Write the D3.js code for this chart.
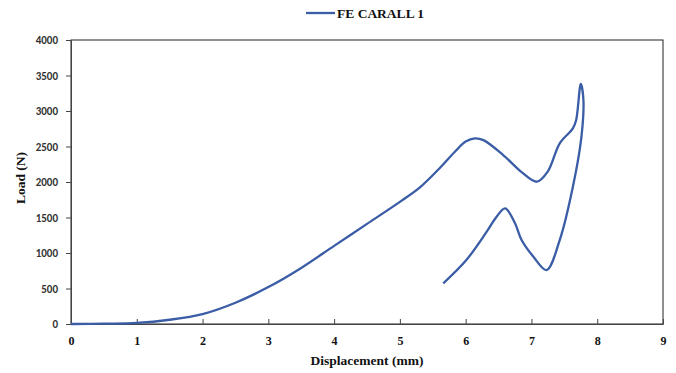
<!DOCTYPE html>
<html>
<head>
<meta charset="UTF-8">
<title>Load-Displacement</title>
<script src="https://cdn.jsdelivr.net/npm/d3@7"></script>
<style>
body { margin:0; background:#fff; }
.y.axis text { font-family: Carlito, "Liberation Sans", sans-serif; font-size: 11px; font-weight: bold; fill:#333; }
.x.axis text { font-family: "Liberation Serif", serif; font-size: 12px; font-weight: bold; fill:#111; }
.title { font-family: "Liberation Serif", serif; font-size: 13.5px; font-weight: bold; fill:#111; }
</style>
</head>
<body>
<div id="chart"></div>
<script>
// displacement (mm) / load (N) in drawing order
var disp = [0, 0.5, 1, 1.5, 2, 2.5, 3, 3.5, 4, 4.5, 5, 5.3, 5.6, 5.85, 6.0, 6.14, 6.27, 6.57, 6.85, 7.08, 7.25, 7.43, 7.63, 7.68, 7.75, 7.79,
            7.76, 7.63, 7.43, 7.23, 7.03, 6.85, 6.75, 6.6, 6.47, 6.32, 6.01, 5.66];
var load = [0, 5, 15, 60, 140, 300, 520, 790, 1100, 1410, 1720, 1920, 2190, 2440, 2570, 2615, 2590, 2380, 2140, 2004, 2150, 2545, 2755, 2873, 3380, 3155,
            2637, 1933, 1183, 760, 948, 1183, 1418, 1629, 1511, 1300, 901, 573];
var xTicks = [0, 1, 2, 3, 4, 5, 6, 7, 8, 9];
var yTicks = [0, 500, 1000, 1500, 2000, 2500, 3000, 3500, 4000];
var seriesName = 'FE CARALL 1';

var W = 676, H = 373;
var margin = {top: 40, right: 13, bottom: 49, left: 71};
var width = W - margin.left - margin.right,
    height = H - margin.top - margin.bottom;

var svg = d3.select('#chart').append('svg')
    .attr('width', W)
    .attr('height', H);

var x = d3.scaleLinear().domain([0, 9]).range([0, width]);
var y = d3.scaleLinear().domain([0, 4000]).range([height, 0]);

var g = svg.append('g')
    .attr('transform', 'translate(' + margin.left + ',' + margin.top + ')');

// frame
g.append('rect')
    .attr('width', width).attr('height', height)
    .attr('fill', 'none').attr('stroke', '#222').attr('stroke-width', 1);

var xAxis = d3.axisBottom(x).tickValues(xTicks).tickFormat(d3.format('d'))
    .tickSizeInner(-5).tickSizeOuter(0).tickPadding(12);
var yAxis = d3.axisLeft(y).tickValues(yTicks).tickFormat(d3.format('d'))
    .tickSizeInner(5).tickSizeOuter(0).tickPadding(8);

g.append('g').attr('class', 'x axis')
    .attr('transform', 'translate(0,' + height + ')')
    .call(xAxis)
    .call(function(s){ s.select('.domain').attr('stroke', '#444'); s.selectAll('line').attr('stroke', '#444'); });

g.append('g').attr('class', 'y axis')
    .call(yAxis)
    .call(function(s){ s.select('.domain').attr('stroke', '#444'); s.selectAll('line').attr('stroke', '#444'); });

var data = disp.map(function(d, i){ return [d, load[i]]; });

var line = d3.line()
    .x(function(d){ return x(d[0]); })
    .y(function(d){ return y(d[1]); })
    .curve(d3.curveCatmullRom.alpha(0.5));

g.append('path')
    .datum(data)
    .attr('fill', 'none')
    .attr('stroke', '#3a5da6')
    .attr('stroke-width', 2.3)
    .attr('stroke-linejoin', 'round')
    .attr('d', line);

// axis titles
svg.append('text').attr('class', 'title')
    .attr('x', 367).attr('y', 365)
    .attr('text-anchor', 'middle')
    .text('Displacement  (mm)');

svg.append('text').attr('class', 'title')
    .attr('transform', 'translate(25,178) rotate(-90)')
    .attr('text-anchor', 'middle')
    .text('Load  (N)');

// legend
var leg = svg.append('g').attr('transform', 'translate(306,13)');
leg.append('line').attr('x1', 0).attr('x2', 29).attr('y1', 0).attr('y2', 0)
    .attr('stroke', '#3a5da6').attr('stroke-width', 2.3);
leg.append('text').attr('class', 'title')
    .attr('x', 31).attr('y', 4.5)
    .text(seriesName);
</script>
</body>
</html>
